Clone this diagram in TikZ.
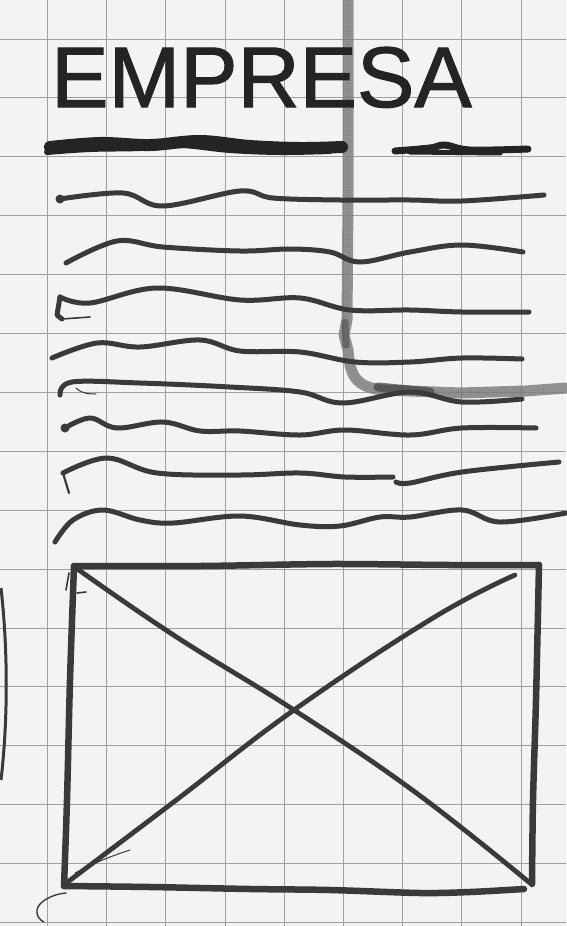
\documentclass[tikz,border=0pt]{standalone}
\usepackage{fontspec}
\setmainfont{Liberation Sans}
\newfontfamily\titlefont{Liberation Sans}[FakeBold=1.3]
\definecolor{paper}{RGB}{243,243,241}
\definecolor{gridc}{RGB}{160,160,160}
\definecolor{ink}{RGB}{58,58,58}
\definecolor{inkdark}{RGB}{36,36,36}
\definecolor{pencil}{RGB}{128,128,128}
\tikzset{
  gridline/.style={draw=gridc, line width=0.9pt},
  wave/.style={draw=ink, line width=5pt, line cap=round, line join=round},
  thin ink/.style={draw=ink, line width=1.6pt, line cap=round},
  boxline/.style={draw=ink, line width=6.5pt, line cap=round, line join=round},
  diag/.style={draw=ink, line width=4.8pt, line cap=round},
  bar/.style={draw=inkdark, line cap=round, line join=round},
  pencilline/.style={draw=pencil, line width=11pt, line cap=round, line join=round, opacity=0.85},
  speckle/.style={draw=black, line width=6pt, dash pattern=on 0.7pt off 1.9pt, opacity=0.08},
}
\begin{document}
\begin{tikzpicture}[x=1pt,y=-1pt]
\useasboundingbox (0,0) rectangle (566,926);
\fill[paper] (0,0) rectangle (566,926);
% grid
\foreach \i in {0,...,8} {\draw[gridline] ({47.5+59.2*\i},0) -- ({47.5+59.2*\i},926);}
\foreach \j in {0,...,15} {\draw[gridline] (0,{39+58.9*\j}) -- (566,{39+58.9*\j});}

% pencil L-shaped stroke
\draw[pencilline] (348,0) -- (348,200) -- (347,320) -- (344,335) -- (348,350)
  .. controls (350,375) and (355,388) .. (385,390) -- (460,393) -- (525,391) -- (566,388);
\draw[speckle] (348,0) -- (348,200) -- (347,320) -- (344,335) -- (348,350)
  .. controls (350,375) and (355,388) .. (385,390) -- (460,393) -- (525,391);
\draw[draw=pencil!60!black, line width=7pt, line cap=round, opacity=0.6] (345,322) -- (346,345);
\draw[draw=pencil!50!black, line width=9pt, line cap=round, opacity=0.7] (378,387) -- (430,392);

% title
\node[anchor=base west, inner sep=0, font=\titlefont\fontsize{86}{86}\selectfont, text=inkdark] (title) at (51,107) {EMPRESA};

% header bars
\draw[bar, line width=12pt] plot[smooth, tension=0.6] coordinates {(50,147) (100,143) (150,145) (200,141) (250,146) (300,148) (342,147)};
\draw[bar, line width=6pt] plot[smooth, tension=0.6] coordinates {(47,152) (90,149) (140,148) (180,145) (230,150) (280,152) (330,151)};
\draw[bar, line width=7pt] plot[smooth, tension=0.6] coordinates {(395,151) (430,148) (445,145) (470,150) (528,149)};
\draw[bar, line width=5pt] (410,152) -- (500,153);

% wavy text lines
\draw[wave] plot[smooth, tension=0.6] coordinates {(60,199) (123,193) (163,206) (240,191) (273,198) (340,200) (410,200) (462,201) (544,195)};
\fill[ink] (60,199) circle (4.5);
\draw[wave] plot[smooth, tension=0.6] coordinates {(66,263) (117,241) (163,247) (240,251) (290,249) (330,252) (360,262) (410,252) (462,245) (523,252)};
\draw[wave] plot[smooth, tension=0.6] coordinates {(60,297) (90,303) (157,288) (240,300) (300,298) (350,310) (410,310) (462,312) (529,312)};
\draw[wave] (60,297) -- (57,315) -- (62,319);
\draw[thin ink] (62,319) -- (90,317);
\draw[wave] plot[smooth, tension=0.6] coordinates {(52,358) (97,343) (140,347) (200,340) (240,351) (300,352) (355,362) (410,362) (462,358) (522,359)};
\draw[wave] plot[smooth, tension=0.6] coordinates {(60,395) (72,382) (140,383) (230,387) (300,392) (343,403) (410,392) (462,402) (522,399)};
\draw[thin ink, line width=1pt] (76,388) .. controls (82,394) and (90,394) .. (96,394);
\draw[wave] plot[smooth, tension=0.6] coordinates {(65,428) (90,418) (117,428) (163,422) (200,431) (240,431) (300,435) (345,430) (410,435) (462,428) (536,428)};
\fill[ink] (65,428) circle (4.5);
\draw[wave] plot[smooth, tension=0.6] coordinates {(63,473) (107,458) (157,473) (240,475) (300,473) (345,477) (393,477)};
\draw[wave] plot[smooth, tension=0.6] coordinates {(396,482) (410,483) (462,472) (559,462)};
\draw[thin ink, line width=2.2pt] (63,473) -- (69,493);
\draw[wave] plot[smooth, tension=0.6] coordinates {(55,542) (73,520) (103,510) (140,520) (173,523) (240,516) (300,525) (340,526) (380,517) (410,517) (462,510) (500,522) (566,513)};

% image placeholder box
\draw[boxline] plot[smooth, tension=0.5] coordinates {(74,566) (200,566) (330,564) (450,565) (539,565)};
\draw[boxline] plot[smooth, tension=0.5] coordinates {(539,565) (536,700) (533,800) (532,884)};
\draw[boxline] plot[smooth, tension=0.5] coordinates {(64,886) (150,887) (250,889) (330,890) (420,893) (470,892) (524,889)};
\draw[boxline] plot[smooth, tension=0.5] coordinates {(74,566) (70,680) (67,800) (64,886)};
\draw[diag] plot[smooth, tension=0.7] coordinates {(76,568) (175,636) (294,710) (415,792) (530,883)};
\draw[diag] plot[smooth, tension=0.7] coordinates {(65,884) (175,801) (294,710) (433,618) (515,575)};
% small thin strokes
\draw[thin ink] (69,573) -- (66,590);
\draw[thin ink] (77,593) -- (86,592);
\draw[thin ink, line width=1pt] (75,873) .. controls (100,860) and (115,855) .. (130,850);
\draw[thin ink, line width=1.4pt] (66,893) .. controls (52,894) and (38,902) .. (37,910) .. controls (36,916) and (40,920) .. (44,922);
\draw[draw=ink, line width=3pt] (1,588) .. controls (8,650) and (8,720) .. (1,780);
\end{tikzpicture}
\end{document}
